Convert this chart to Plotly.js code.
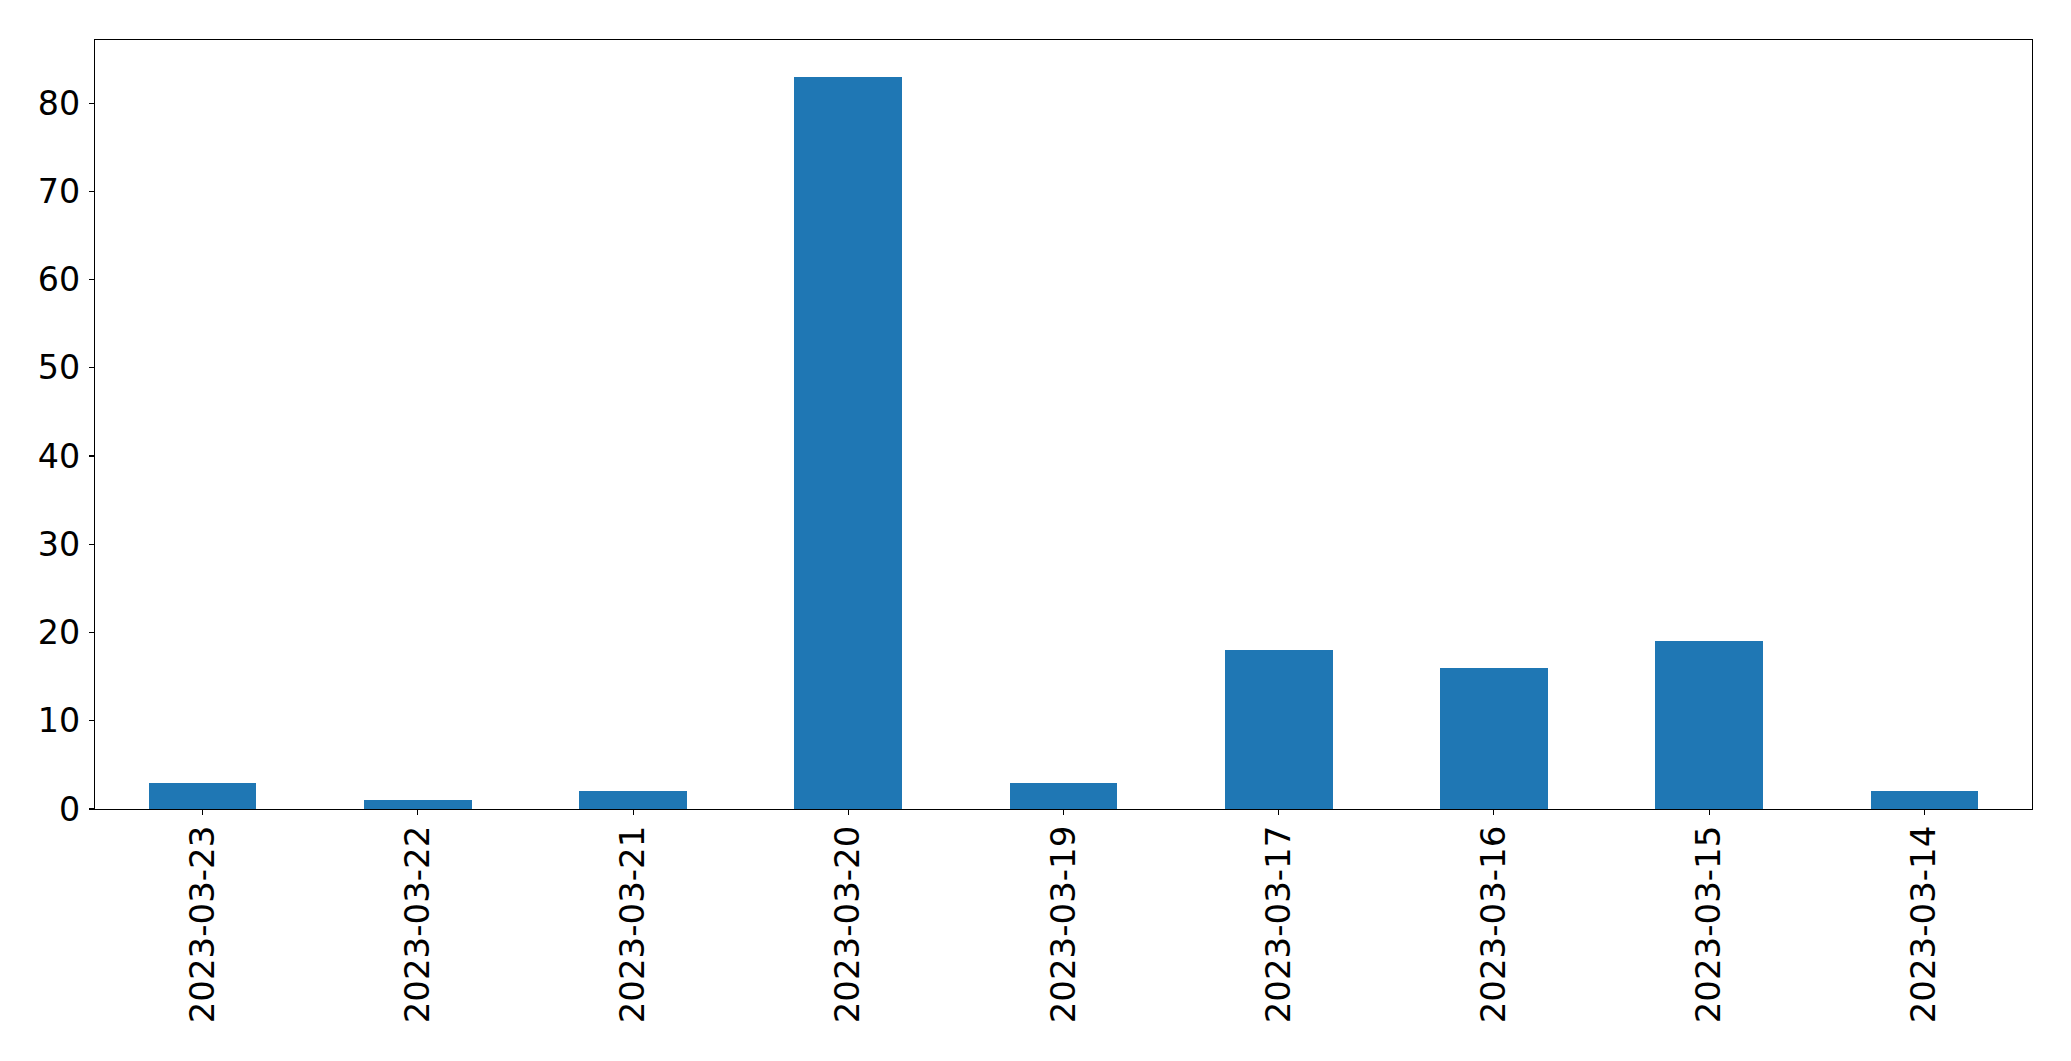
<!DOCTYPE html>
<html>
<head>
<meta charset="utf-8">
<script src="https://cdn.plot.ly/plotly-3.0.1.min.js"></script>
<style>html,body{margin:0;padding:0;background:#fff;}#chart{width:2071px;height:1061px;}</style>
</head>
<body>
<div id="chart"></div>
<script>
const categories = ["2023-03-23","2023-03-22","2023-03-21","2023-03-20","2023-03-19","2023-03-17","2023-03-16","2023-03-15","2023-03-14"];
const values = [3, 1, 2, 83, 3, 18, 16, 19, 2];
const yTicks = [0, 10, 20, 30, 40, 50, 60, 70, 80];

const trace = {
  type: 'bar',
  x: categories,
  y: values,
  width: 0.5,
  marker: {color: '#1f77b4', line: {width: 0}},
  hoverinfo: 'x+y'
};

const font = {family: 'DejaVu Sans, sans-serif', size: 33.3, color: '#000'};
const xfont = {family: 'DejaVu Sans, sans-serif', size: 34, color: '#000'};
const layout = {
  width: 2071, height: 1061,
  margin: {l: 94.5, r: 39.3, t: 39.5, b: 251.7, pad: 0},
  paper_bgcolor: '#fff', plot_bgcolor: '#fff',
  showlegend: false,
  bargap: 0,
  xaxis: {
    type: 'category',
    range: [-0.5, 8.5],
    tickangle: -90,
    ticks: 'outside', ticklen: 5, tickwidth: 1.1, tickcolor: '#000',
    showline: true, linecolor: '#000', linewidth: 1.1, mirror: true,
    showgrid: false, zeroline: false,
    tickfont: xfont,
    ticklabelstandoff: -3
  },
  yaxis: {
    range: [0, 87.15],
    tickvals: yTicks,
    ticktext: yTicks.map(String),
    ticks: 'outside', ticklen: 5, tickwidth: 1.1, tickcolor: '#000',
    showline: true, linecolor: '#000', linewidth: 1.1, mirror: true,
    showgrid: false, zeroline: false,
    tickfont: font,
    ticklabelstandoff: 2
  }
};
Plotly.newPlot('chart', [trace], layout, {displayModeBar: false, staticPlot: true});
</script>
</body>
</html>
